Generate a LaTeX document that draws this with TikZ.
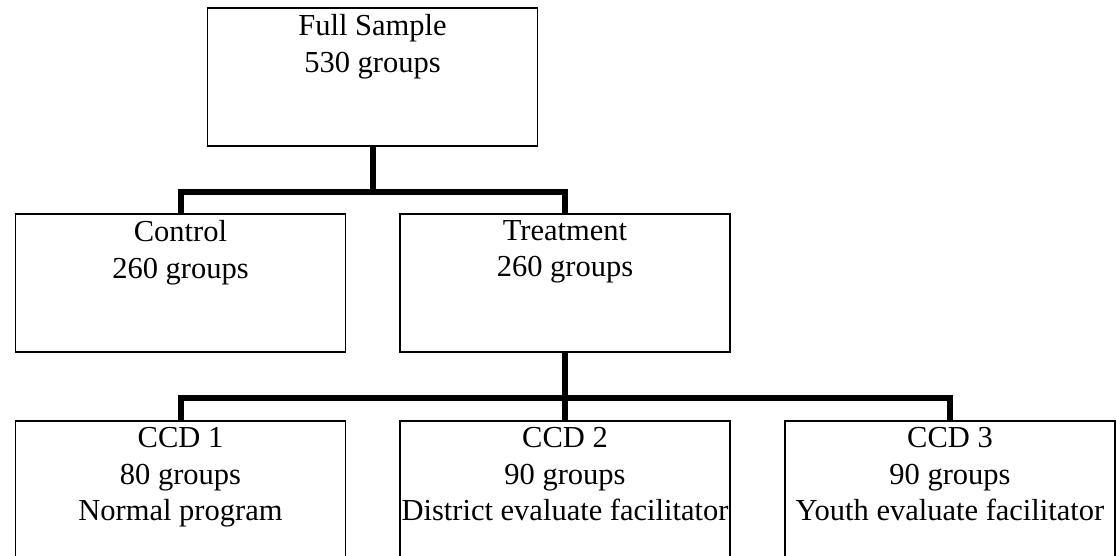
\documentclass[tikz,border=0pt]{standalone}
\usepackage{fontspec}
\setmainfont{Liberation Serif}

\tikzset{
  box/.style={draw, line width=1.6pt, minimum width=330pt, minimum height=138pt, anchor=north, inner sep=0pt},
  boxtext/.style={anchor=north, align=center, inner sep=0pt, yshift=-7pt, font=\fontsize{30.5}{36.7}\selectfont},
  link/.style={line width=6pt}
}

\begin{document}
\begin{tikzpicture}[x=1pt,y=-1pt]
\useasboundingbox (0,0) rectangle (1117,556);

% boxes
\node[box] (full) at (372.5,7) {};
\node[boxtext] (fulltxt) at (full.north) {Full Sample\\530 groups};

\node[box] (ctrl) at (180.5,213) {};
\node[boxtext] (ctrltxt) at (ctrl.north) {Control\\260 groups};
\node[box] (treat) at (565,213) {};
\node[boxtext] (treattxt) at (treat.north) {Treatment\\260 groups};

\node[box] (ccda) at (180.5,420) {};
\node[boxtext] (ccdatxt) at (ccda.north) {CCD 1\\80 groups\\Normal program};
\node[box] (ccdb) at (565,420) {};
\node[boxtext] (ccdbtxt) at (ccdb.north) {CCD 2\\90 groups\\District evaluate facilitator};
\node[box] (ccdc) at (950,420) {};
\node[boxtext] (ccdctxt) at (ccdc.north) {CCD 3\\90 groups\\Youth evaluate facilitator};

% connectors
\draw[link] (full.south) -- ++(0,45) coordinate (j1);
\draw[link] (j1) -| (ctrl.north);
\draw[link] (j1) -| (treat.north);

\draw[link] (treat.south) -- ++(0,45) coordinate (j2);
\draw[link] (j2) -| (ccda.north);
\draw[link] (j2) -- (ccdb.north);
\draw[link] (j2) -| (ccdc.north);

\end{tikzpicture}
\end{document}
